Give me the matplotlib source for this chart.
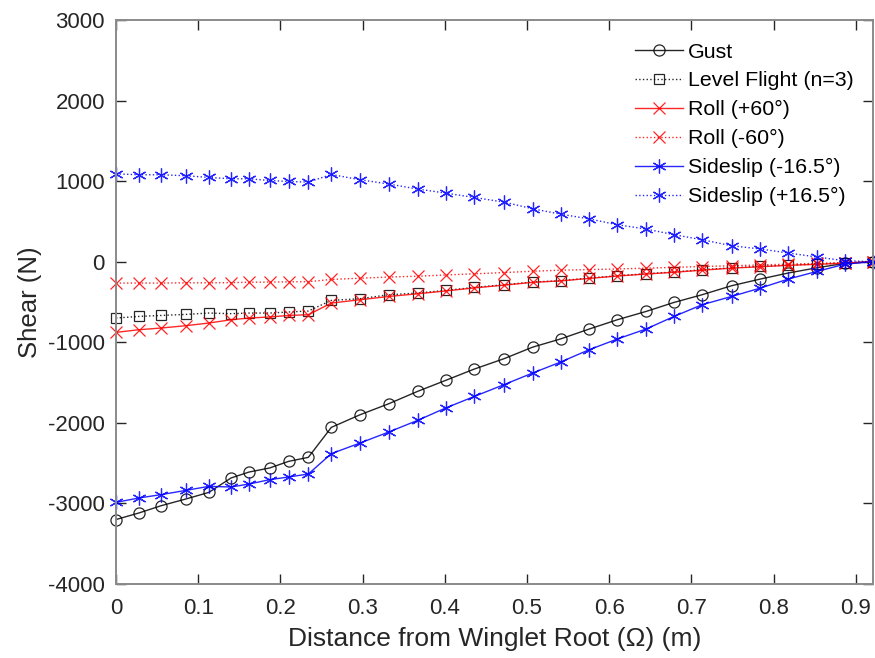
import matplotlib
matplotlib.use("Agg")
import matplotlib.pyplot as plt

plt.rcParams['font.family'] = ['Liberation Sans', 'DejaVu Sans']
plt.rcParams['axes.unicode_minus'] = False

x = [0, 0.028, 0.055, 0.085, 0.113, 0.140, 0.162, 0.187, 0.210, 0.234,
     0.262, 0.297, 0.332, 0.367, 0.401, 0.436, 0.472, 0.507, 0.541, 0.575,
     0.610, 0.645, 0.679, 0.713, 0.749, 0.784, 0.818, 0.853, 0.887, 0.921]

gust = [-3200, -3118, -3028, -2945, -2863, -2684, -2610, -2560, -2478, -2428,
        -2056, -1899, -1762, -1609, -1473, -1332, -1204, -1060, -958, -838,
        -720, -617, -505, -410, -298, -215, -140, -75, -20, 0]

level = [-699, -679, -667, -654, -637, -645, -637, -637, -624, -612,
         -480, -459, -410, -389, -356, -319, -286, -252, -236, -203,
         -174, -149, -128, -100, -75, -58, -42, -30, -15, 0]

roll_pos = [-877, -844, -823, -794, -761, -720, -699, -686, -667, -658,
            -513, -472, -431, -398, -363, -325, -291, -256, -238, -208,
            -178, -153, -131, -105, -80, -62, -45, -32, -18, 0]

roll_neg = [-265, -265, -265, -262, -262, -260, -255, -252, -250, -248,
            -220, -205, -190, -180, -165, -150, -135, -118, -105, -98,
            -90, -80, -70, -60, -50, -40, -30, -20, -10, 0]

side_neg = [-2987, -2932, -2891, -2838, -2788, -2796, -2759, -2705, -2672, -2635,
            -2382, -2250, -2113, -1969, -1816, -1672, -1526, -1381, -1245, -1095,
            -959, -835, -679, -534, -431, -327, -215, -120, -30, 0]

side_pos = [1091, 1079, 1079, 1067, 1046, 1029, 1029, 1008, 996, 988,
            1083, 1017, 964, 902, 852, 797, 740, 657, 590, 533,
            459, 405, 335, 273, 198, 158, 108, 58, 12, 0]

labels = ['Gust', 'Level Flight (n=3)', 'Roll (+60°)', 'Roll (-60°)',
          'Sideslip (-16.5°)', 'Sideslip (+16.5°)']

xticks = [0, 0.1, 0.2, 0.3, 0.4, 0.5, 0.6, 0.7, 0.8, 0.9]
xticklabels = ['0', '0.1', '0.2', '0.3', '0.4', '0.5', '0.6', '0.7', '0.8', '0.9']
yticks = [-4000, -3000, -2000, -1000, 0, 1000, 2000, 3000]

asterisk = (6, 2, 0)

fig = plt.figure(figsize=(8.75, 6.58), dpi=100)
ax = fig.add_axes([116/875, 1-584/658, (873-116)/875, (584-20)/658])

series = [
    (gust, '-', 'o', 'black', 8),
    (level, ':', 's', 'black', 6.5),
    (roll_pos, '-', 'x', 'red', 8),
    (roll_neg, ':', 'x', 'red', 8),
    (side_neg, '-', asterisk, 'blue', 10),
    (side_pos, ':', asterisk, 'blue', 10),
]
for (y, ls, mk, col, ms), lab in zip(series, labels):
    ax.plot(x, y, linestyle=ls, marker=mk, color=col, markersize=ms,
            markerfacecolor='none', markeredgecolor=col, markeredgewidth=0.9,
            linewidth=1.0, alpha=0.85, label=lab, clip_on=False)

ax.set_xlim(0, 0.921)
ax.set_ylim(-4000, 3000)
ax.set_xticks(xticks)
ax.set_xticklabels(xticklabels)
ax.set_yticks(yticks)
ax.tick_params(direction='in', length=7, width=1.0, colors='#262626',
               labelsize=16, top=True, right=True)
ax.tick_params(axis='x', pad=10)
ax.tick_params(axis='y', pad=8)
for s in ax.spines.values():
    s.set_color('#8a8a8a')
    s.set_linewidth(1.4)

ax.set_xlabel('Distance from Winglet Root (Ω) (m)', fontsize=19, color='#262626', labelpad=6)
ax.set_ylabel('Shear (N)', fontsize=18.5, color='#262626', labelpad=4)

leg = ax.legend(loc='upper right', bbox_to_anchor=(0.974, 0.960), frameon=False,
                fontsize=15.4, handlelength=2.25, handletextpad=0.2,
                labelspacing=0.46, borderpad=0.0, borderaxespad=0.0)
for t in leg.get_texts():
    t.set_color('black')

fig.savefig('out.png', dpi=100)
